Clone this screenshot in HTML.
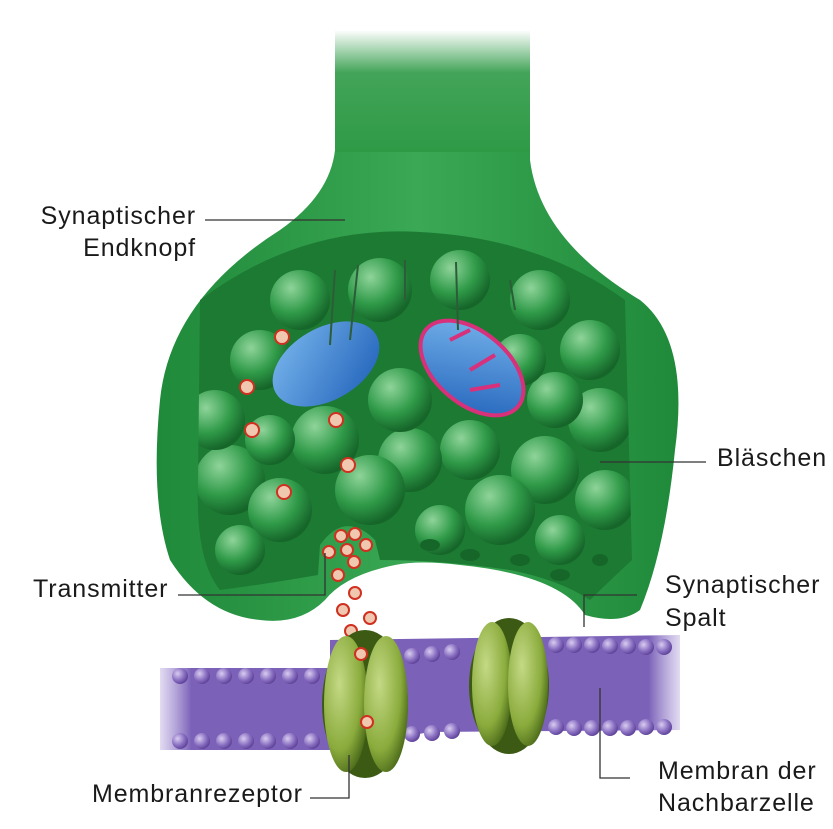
<!DOCTYPE html>
<html><head><meta charset="utf-8"><style>
html,body{margin:0;padding:0;background:#fff;}
svg{display:block;}
text{font-family:"Liberation Sans",sans-serif;font-size:25px;letter-spacing:0.9px;fill:#1a1a1a;}
</style></head><body>
<svg width="833" height="829" viewBox="0 0 833 829" xmlns="http://www.w3.org/2000/svg">
<defs>
<linearGradient id="stem" x1="0" y1="0" x2="0" y2="1">
<stop offset="0" stop-color="#2e9a46" stop-opacity="0"/>
<stop offset="0.35" stop-color="#2e9a46" stop-opacity="0.9"/>
<stop offset="1" stop-color="#2e9a46"/>
</linearGradient>
<linearGradient id="body" x1="0" y1="0" x2="1" y2="0">
<stop offset="0" stop-color="#1f8a3a"/>
<stop offset="0.5" stop-color="#3aa854"/>
<stop offset="1" stop-color="#1f8a3a"/>
</linearGradient>
<radialGradient id="ves" cx="0.35" cy="0.3" r="0.7">
<stop offset="0" stop-color="#8fd49a"/>
<stop offset="0.6" stop-color="#2f9a48"/>
<stop offset="1" stop-color="#16662a"/>
</radialGradient>
<radialGradient id="rec" cx="0.35" cy="0.35" r="0.7">
<stop offset="0" stop-color="#c4d985"/>
<stop offset="0.7" stop-color="#8aab3c"/>
<stop offset="1" stop-color="#4f6e1c"/>
</radialGradient>
<radialGradient id="head" cx="0.35" cy="0.35" r="0.7">
<stop offset="0" stop-color="#d8ccf0"/>
<stop offset="0.6" stop-color="#8a70c2"/>
<stop offset="1" stop-color="#5b3f96"/>
</radialGradient>
<linearGradient id="mem" x1="0" y1="0" x2="1" y2="0">
<stop offset="0" stop-color="#9c86d0" stop-opacity="0.3"/>
<stop offset="0.06" stop-color="#7b62b8"/>
<stop offset="0.94" stop-color="#7b62b8"/>
<stop offset="1" stop-color="#9c86d0" stop-opacity="0.3"/>
</linearGradient>
<linearGradient id="mito" x1="0" y1="0" x2="1" y2="1">
<stop offset="0" stop-color="#7ab8ee"/>
<stop offset="1" stop-color="#1f5fb8"/>
</linearGradient>
<clipPath id="cut"><path d="M200 300 Q300 225 420 232 Q540 238 625 300 L632 560 Q600 590 590 600 Q560 580 510 570 Q440 560 380 560 L375 540 Q345 510 320 545 L318 575 Q260 585 220 590 Q195 560 198 480 Z"/></clipPath>
</defs>

<!-- terminal -->
<path d="M335 150 L530 150 L530 160 Q540 240 640 300 Q690 340 675 450 Q665 550 640 610 Q620 625 585 615 Q560 575 460 565 Q420 560 395 565 Q345 575 325 600 Q300 625 260 620 Q205 615 170 560 Q150 500 160 400 Q170 300 280 230 Q330 195 335 150 Z" fill="url(#body)"/>
<rect x="335" y="30" width="195" height="122" fill="url(#stem)"/>

<!-- interior -->
<g clip-path="url(#cut)">
<rect x="190" y="220" width="450" height="390" fill="#1d7a33"/>
<g fill="url(#ves)">
<circle cx="230" cy="480" r="35"/><circle cx="215" cy="420" r="30"/><circle cx="260" cy="360" r="30"/>
<circle cx="300" cy="300" r="30"/><circle cx="380" cy="290" r="32"/><circle cx="460" cy="280" r="30"/>
<circle cx="540" cy="300" r="30"/><circle cx="590" cy="350" r="30"/><circle cx="600" cy="420" r="32"/>
<circle cx="605" cy="500" r="30"/><circle cx="545" cy="470" r="34"/><circle cx="500" cy="510" r="35"/>
<circle cx="470" cy="450" r="30"/><circle cx="410" cy="460" r="32"/><circle cx="370" cy="490" r="35"/>
<circle cx="325" cy="440" r="34"/><circle cx="280" cy="510" r="32"/><circle cx="270" cy="440" r="25"/>
<circle cx="400" cy="400" r="32"/><circle cx="555" cy="400" r="28"/><circle cx="440" cy="530" r="25"/>
<circle cx="560" cy="540" r="25"/><circle cx="240" cy="550" r="25"/><circle cx="520" cy="360" r="26"/>
</g>
<path d="M330 540 Q345 515 372 540 L380 560 Q470 560 590 600 L640 610 L640 620 L320 620 Z" fill="#2a9040"/>
<g fill="#16662a"><ellipse cx="430" cy="545" rx="10" ry="6"/><ellipse cx="470" cy="555" rx="10" ry="6"/><ellipse cx="520" cy="560" rx="10" ry="6"/><ellipse cx="560" cy="575" rx="10" ry="6"/><ellipse cx="600" cy="560" rx="8" ry="6"/></g>
</g>
<!-- mitochondria -->
<ellipse cx="326" cy="364" rx="58" ry="36" transform="rotate(-30 326 364)" fill="url(#mito)"/>
<ellipse cx="472" cy="368" rx="60" ry="36" transform="rotate(40 472 368)" fill="url(#mito)" stroke="#d8307a" stroke-width="4"/>
<g stroke="#d8307a" stroke-width="4"><line x1="450" y1="340" x2="470" y2="330"/><line x1="470" y1="370" x2="495" y2="355"/><line x1="470" y1="390" x2="500" y2="385"/></g>
<g stroke="#2d5d38" stroke-width="2"><line x1="330" y1="345" x2="335" y2="270"/><line x1="350" y1="340" x2="358" y2="265"/><line x1="405" y1="300" x2="405" y2="260"/><line x1="458" y1="330" x2="456" y2="262"/><line x1="515" y1="310" x2="510" y2="280"/></g>

<!-- transmitters -->
<g fill="#f0c8b0" stroke="#d03020" stroke-width="2">
<circle cx="282" cy="337" r="7"/><circle cx="247" cy="387" r="7"/><circle cx="252" cy="430" r="7"/><circle cx="336" cy="420" r="7"/>
<circle cx="348" cy="465" r="7"/><circle cx="284" cy="492" r="7"/><circle cx="329" cy="552" r="6"/>
<circle cx="341" cy="536" r="6"/><circle cx="355" cy="534" r="6"/><circle cx="366" cy="545" r="6"/><circle cx="347" cy="550" r="6"/><circle cx="354" cy="562" r="6"/>
<circle cx="338" cy="575" r="6"/><circle cx="355" cy="593" r="6"/><circle cx="343" cy="610" r="6"/><circle cx="370" cy="618" r="6"/><circle cx="351" cy="631" r="6"/>
</g>

<!-- membrane -->
<path d="M160 668 L330 668 L330 640 L680 635 L680 730 L430 732 L330 750 L160 750 Z" fill="url(#mem)"/>
<g fill="url(#head)">
<circle cx="180" cy="676" r="8"/><circle cx="202" cy="676" r="8"/><circle cx="224" cy="676" r="8"/><circle cx="246" cy="676" r="8"/><circle cx="268" cy="676" r="8"/><circle cx="290" cy="676" r="8"/><circle cx="312" cy="676" r="8"/>
<circle cx="180" cy="741" r="8"/><circle cx="202" cy="741" r="8"/><circle cx="224" cy="741" r="8"/><circle cx="246" cy="741" r="8"/><circle cx="268" cy="741" r="8"/><circle cx="290" cy="741" r="8"/><circle cx="312" cy="741" r="8"/>
<circle cx="412" cy="656" r="8"/><circle cx="432" cy="654" r="8"/><circle cx="452" cy="652" r="8"/>
<circle cx="412" cy="734" r="8"/><circle cx="432" cy="733" r="8"/><circle cx="452" cy="731" r="8"/>
<circle cx="556" cy="645" r="8"/><circle cx="574" cy="645" r="8"/><circle cx="592" cy="645" r="8"/><circle cx="610" cy="646" r="8"/><circle cx="628" cy="646" r="8"/><circle cx="646" cy="647" r="8"/><circle cx="664" cy="647" r="8"/>
<circle cx="556" cy="727" r="8"/><circle cx="574" cy="728" r="8"/><circle cx="592" cy="728" r="8"/><circle cx="610" cy="728" r="8"/><circle cx="628" cy="728" r="8"/><circle cx="646" cy="727" r="8"/><circle cx="664" cy="727" r="8"/>
</g>
<!-- receptors -->
<ellipse cx="365" cy="704" rx="43" ry="74" fill="#3d5a14"/>
<ellipse cx="346" cy="704" rx="22" ry="68" fill="url(#rec)"/>
<ellipse cx="386" cy="704" rx="22" ry="68" fill="url(#rec)"/>
<ellipse cx="509" cy="686" rx="40" ry="68" fill="#3d5a14"/>
<ellipse cx="492" cy="684" rx="20" ry="62" fill="url(#rec)"/>
<ellipse cx="528" cy="684" rx="20" ry="62" fill="url(#rec)"/>
<circle cx="361" cy="654" r="6" fill="#f0c8b0" stroke="#d03020" stroke-width="2"/>
<circle cx="367" cy="722" r="6" fill="#f0c8b0" stroke="#d03020" stroke-width="2"/>

<!-- leader lines -->
<g stroke="#333" stroke-width="1.3" fill="none">
<path d="M205 220 L345 220"/>
<path d="M600 462 L706 462"/>
<path d="M178 595 L325 595 L325 553"/>
<path d="M584 627 L584 595 L637 595"/>
<path d="M600 688 L600 778 L630 778"/>
<path d="M310 798 L349 798 L349 755"/>
</g>
<!-- labels -->
<text x="196" y="224" text-anchor="end">Synaptischer</text>
<text x="196" y="256" text-anchor="end">Endknopf</text>
<text x="717" y="466">Bläschen</text>
<text x="33" y="597">Transmitter</text>
<text x="665" y="593">Synaptischer</text>
<text x="665" y="626">Spalt</text>
<text x="92" y="802">Membranrezeptor</text>
<text x="658" y="779">Membran der</text>
<text x="658" y="811">Nachbarzelle</text>
</svg>
</body></html>
